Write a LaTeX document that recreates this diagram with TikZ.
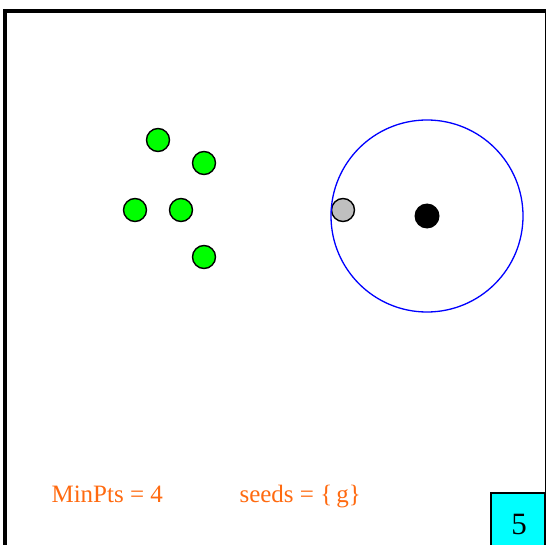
\documentclass[tikz,border=0pt]{standalone}
\usepackage{fontspec}
\setmainfont{Liberation Serif}
\definecolor{PtsOrange}{HTML}{FF6A10}
\definecolor{StepCyan}{HTML}{00FFFF}
\usetikzlibrary{positioning}

\begin{document}
\begin{tikzpicture}[x=1pt, y=-1pt,
    pt/.style={circle, draw, line width=1.4pt, minimum size=23pt, inner sep=0pt},
    core/.style={pt, fill=green},
    lbl/.style={anchor=base west, text=PtsOrange, font=\fontsize{25}{28}\selectfont}]
  \clip (0,0) rectangle (548,545);
  \useasboundingbox (0,0) rectangle (548,545);
  % frame
  \draw[line width=4pt] (5,560) |- (546,11);
  \draw[line width=1.5pt] (545.5,11) -- (545.5,560);
  % cluster
  \node[core] (a) at (158,140) {};
  \node[core] (b) at (204,163) {};
  \node[core] (c) at (135,210) {};
  \node[core] (d) at (181,210) {};
  \node[core] (e) at (204,257) {};
  % neighbourhood of the current point
  \node[pt, fill=black, draw=none, minimum size=25pt] (p) at (427,216) {};
  \node[pt, fill=black!25] (g) at (343,210) {};
  \draw[blue, line width=1.3pt] (p) circle[radius=96];
  % legend
  \node[lbl] (minpts) at (48,502) {MinPts = 4};
  \node[lbl] (seeds) at (236,502) {seeds = \{\,g\}};
  \draw[fill=StepCyan, line width=1.3pt] (491,493) rectangle (545,560);
  \node[anchor=base, font=\fontsize{31}{33}\selectfont] (step) at (519,534) {5};
\end{tikzpicture}
\end{document}
